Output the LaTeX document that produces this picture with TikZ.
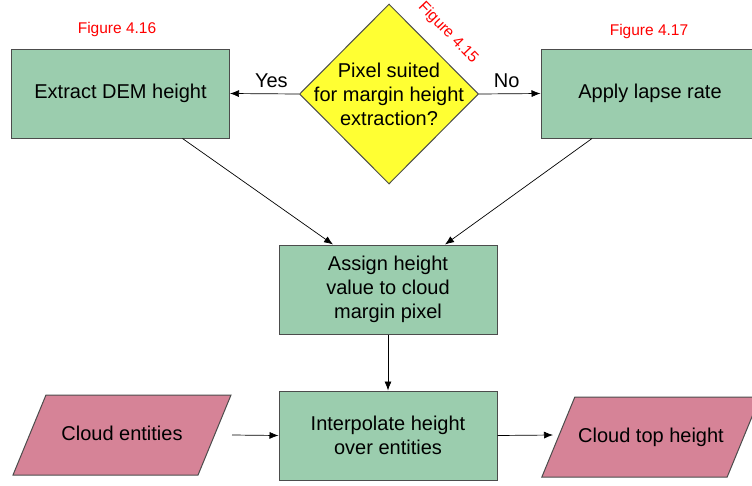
\documentclass[tikz,border=0pt]{standalone}
\usepackage{fontspec}
\setmainfont{Liberation Sans}
\definecolor{boxgreen}{RGB}{155, 205, 174}
\definecolor{datapink}{RGB}{214, 131, 151}
\definecolor{askyellow}{RGB}{255, 255, 51}
\definecolor{figred}{RGB}{255, 0, 0}
\usetikzlibrary{shapes.geometric, arrows.meta, positioning}

\begin{document}
\begin{tikzpicture}[
        x=1pt, y=-1pt,
        every node/.style={font=\fontsize{20}{24}\selectfont, align=center},
        proc/.style={rectangle, draw=black!70, line width=1pt, fill=boxgreen, minimum width=218pt, minimum height=89pt},
        decide/.style={diamond, aspect=1, draw=black!70, line width=1pt, fill=askyellow, minimum width=179pt, minimum height=180pt, inner sep=0pt},
        io/.style={trapezium, trapezium left angle=67.6, trapezium right angle=112.4, trapezium stretches body=true, draw=black!70, line width=1pt, fill=datapink, text height=14pt, text depth=4pt, inner ysep=31pt, minimum width=218pt},
        figlabel/.style={font=\fontsize{15.5}{18}\selectfont, text=figred},
        arr/.style={-{Latex[length=9pt, width=7pt]}, line width=0.7pt, black}
    ]
        \useasboundingbox (0,0) rectangle (752,485);

        % Nodes
        \node[proc]   (dem)    at (120.5, 93.5) {Extract DEM height};
        \node[decide] (suit)   at (389, 94) {};
        \node         (suitxt) at (389, 94) {Pixel suited\\ for margin height\\ extraction?};
        \node[proc]   (lapse)  at (650, 93.5) {Apply lapse rate};
        \node[proc]   (assign) at (388, 289.5) {Assign height\\ value to cloud\\ margin pixel};
        \node[proc]   (interp) at (388, 435.5) {Interpolate height\\ over entities};
        \node[io]     (ents)   at (122, 435) {Cloud entities};
        \node[io]     (cth)    at (651, 437) {Cloud top height};

        % Figure references
        \node[figlabel] (f16) at (117, 29) {Figure 4.16};
        \node[figlabel] (f17) at (649, 31) {Figure 4.17};
        \node[figlabel, rotate=-46] (f15) at (448, 33) {Figure 4.15};

        % Free ends of the input and output arrows
        \coordinate (entsout) at (232, 435);
        \coordinate (cthin)   at (553, 435);

        % Arrows
        \draw[arr] (suit.west) -- node[above, pos=0.4, yshift=2pt] {Yes} (dem.east);
        \draw[arr] (suit.east) -- node[above, pos=0.45, yshift=2pt] {No} (lapse.west);
        \draw[arr] ([xshift=62pt]dem.south) -- ([xshift=-55pt]assign.north);
        \draw[arr] ([xshift=-58pt]lapse.south) -- ([xshift=57pt]assign.north);
        \draw[arr] (assign) -- (interp);
        \draw[arr] (entsout) -- (interp.west);
        \draw[arr] (interp.east) -- (cthin);
\end{tikzpicture}
\end{document}
